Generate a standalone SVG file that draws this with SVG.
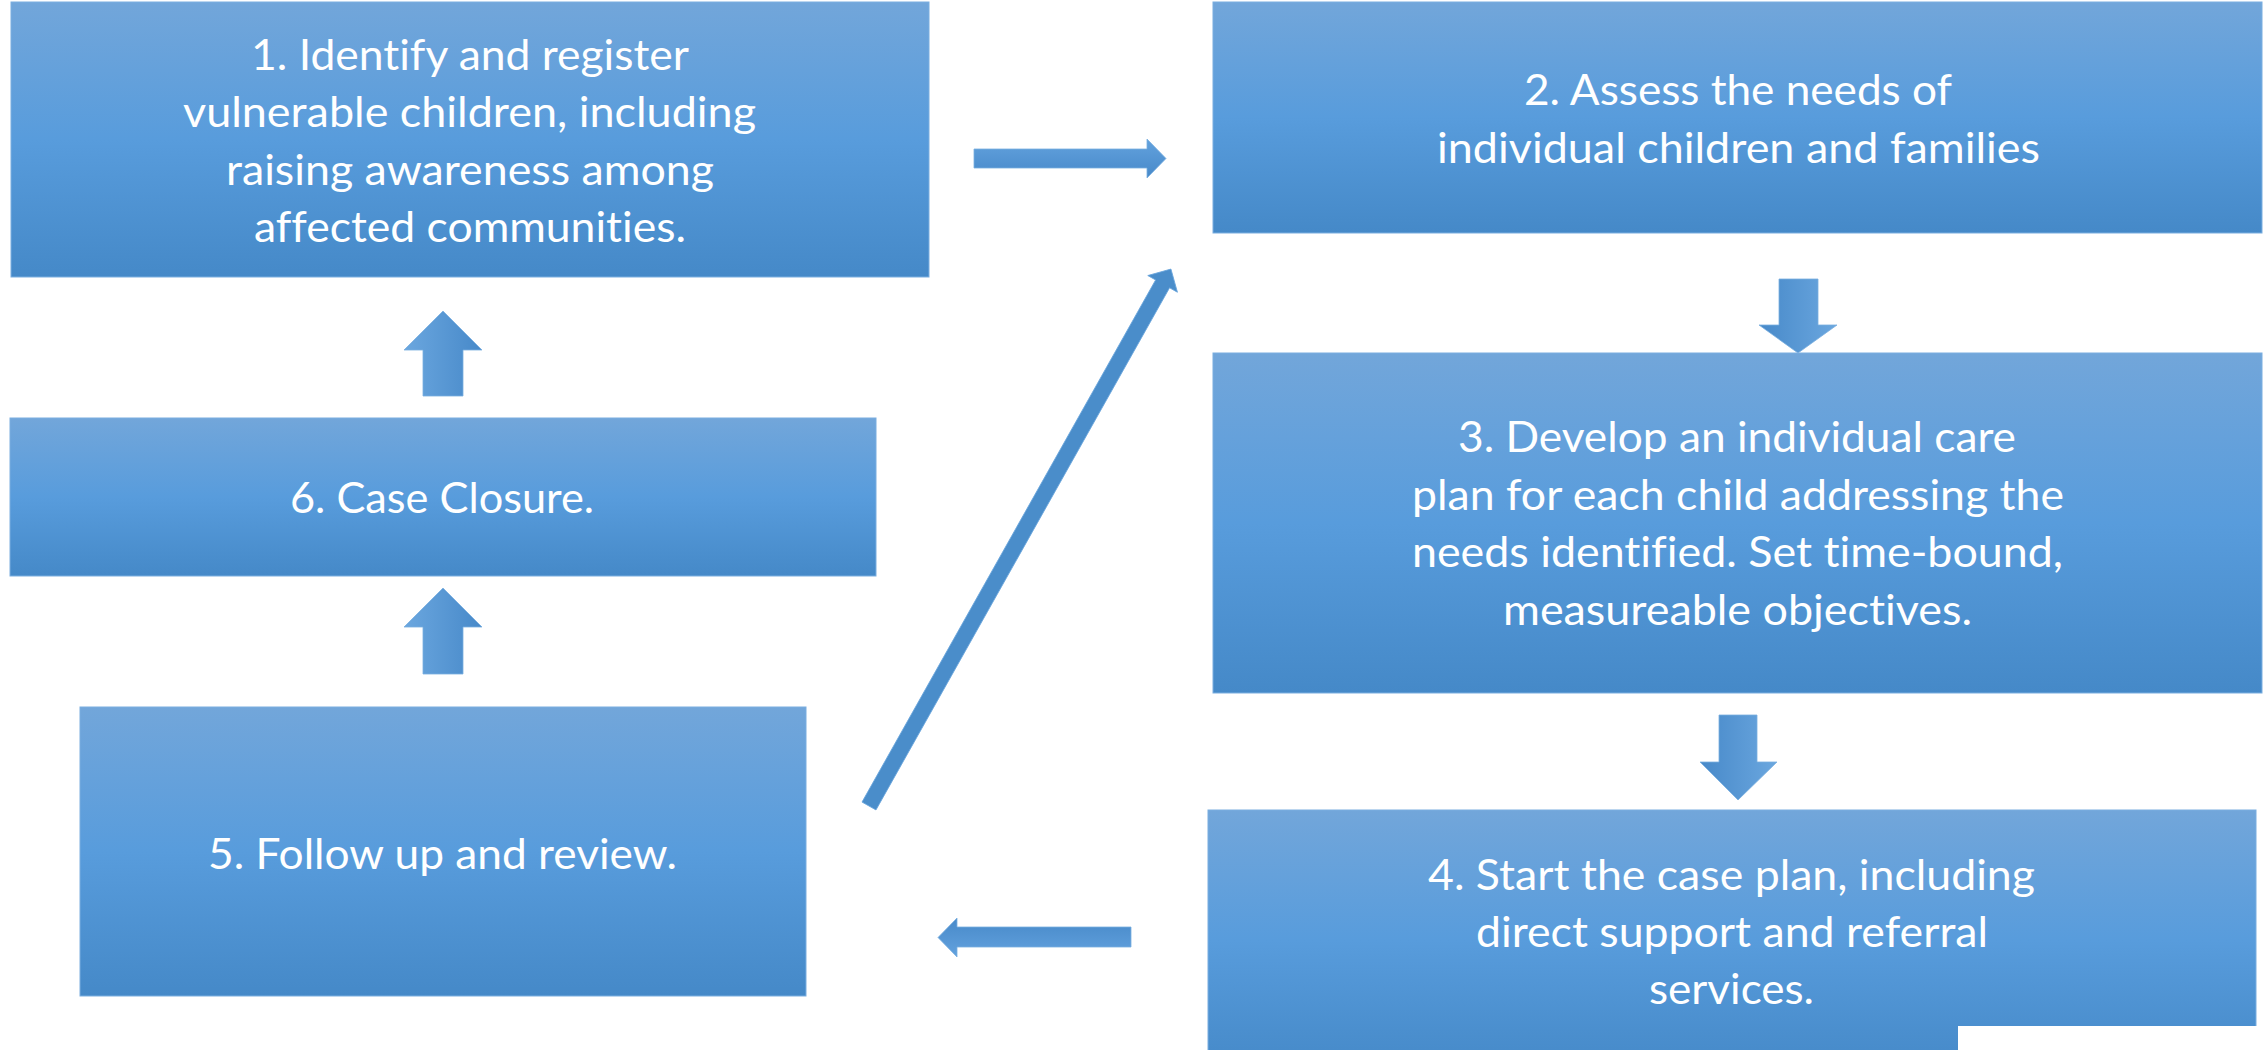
<svg xmlns="http://www.w3.org/2000/svg" width="2264" height="1050" viewBox="0 0 2264 1050">
  <defs>
    <!-- box fill: light top, deeper bottom -->
    <linearGradient id="gBox" x1="0" y1="0" x2="0" y2="1">
      <stop offset="0" stop-color="#72a6da"/>
      <stop offset="0.5" stop-color="#589cdc"/>
      <stop offset="1" stop-color="#4589c8"/>
    </linearGradient>
    <!-- block arrow fills, shading turns with the arrow -->
    <linearGradient id="gUp" x1="0" y1="0" x2="1" y2="0">
      <stop offset="0" stop-color="#6ba7df"/>
      <stop offset="1" stop-color="#4789c9"/>
    </linearGradient>
    <linearGradient id="gDown" x1="0" y1="0" x2="1" y2="0">
      <stop offset="0" stop-color="#4789c9"/>
      <stop offset="1" stop-color="#6ba7df"/>
    </linearGradient>
    <linearGradient id="gRight" x1="0" y1="0" x2="0" y2="1">
      <stop offset="0" stop-color="#63a2de"/>
      <stop offset="1" stop-color="#4789c9"/>
    </linearGradient>
    <linearGradient id="gLeft" x1="0" y1="0" x2="0" y2="1">
      <stop offset="0" stop-color="#4789c9"/>
      <stop offset="1" stop-color="#63a2de"/>
    </linearGradient>
  </defs>
  <style>
    .box { fill: url(#gBox); stroke: #7aaee0; stroke-width: 1; }
    .lbl { font-family: Lato, "Open Sans", "Liberation Sans", sans-serif; font-size: 42px; fill: #ffffff; text-anchor: middle; font-variant-ligatures: none; }
    .arw { stroke: #7aaee0; stroke-width: 0.8; }
  </style>

  <rect width="2264" height="1050" fill="#ffffff"/>

  <g id="connectors">
    <!-- 1 -> 2 -->
    <polygon class="arw" fill="url(#gRight)" points="974,149 1147,149 1147,139 1166,158.5 1147,178 1147,168 974,168"/>
    <!-- 2 -> 3 -->
    <polygon class="arw" fill="url(#gDown)" points="1779,279 1818,279 1818,325 1837,325 1798,353 1759,325 1779,325"/>
    <!-- 3 -> 4 -->
    <polygon class="arw" fill="url(#gDown)" points="1719,715 1757,715 1757,762 1777,762 1738,800 1700,762 1719,762"/>
    <!-- 4 -> 5 -->
    <polygon class="arw" fill="url(#gLeft)" points="1131,927 957,927 957,918 938,937.5 957,957 957,947 1131,947"/>
    <!-- 5 -> 6 -->
    <polygon class="arw" fill="url(#gUp)" points="423,674 423,627 404,627 443,588 482,627 463,627 463,674"/>
    <!-- 6 -> 1 -->
    <polygon class="arw" fill="url(#gUp)" points="423,396 423,350 404,350 443,311 482,350 463,350 463,396"/>
    <!-- 5 -> 2, long diagonal -->
    <g transform="translate(869,806) rotate(-60.65)">
      <polygon fill="#4a8dca" stroke="#6aa5dc" stroke-width="0.8" points="0,-8 599,-8 599,-17 616,0 599,17 599,8 0,8"/>
    </g>
  </g>

  <g id="node1">
    <rect class="box" x="11" y="2" width="918" height="275"/>
    <text class="lbl" x="470" y="69.5" textLength="438" lengthAdjust="spacingAndGlyphs">1. Identify and register</text>
    <text class="lbl" x="469.5" y="127" textLength="573" lengthAdjust="spacingAndGlyphs">vulnerable children, including</text>
    <text class="lbl" x="470" y="184.5" textLength="488" lengthAdjust="spacingAndGlyphs">raising awareness among</text>
    <text class="lbl" x="470" y="242" textLength="432" lengthAdjust="spacingAndGlyphs">affected communities.</text>
  </g>

  <g id="node2">
    <rect class="box" x="1213" y="2" width="1049" height="231"/>
    <text class="lbl" x="1738" y="105" textLength="428" lengthAdjust="spacingAndGlyphs">2. Assess the needs of</text>
    <text class="lbl" x="1738.5" y="163" textLength="603" lengthAdjust="spacingAndGlyphs">individual children and families</text>
  </g>

  <g id="node3">
    <rect class="box" x="1213" y="353" width="1049" height="340"/>
    <text class="lbl" x="1737" y="452" textLength="558" lengthAdjust="spacingAndGlyphs">3. Develop an individual care</text>
    <text class="lbl" x="1738" y="510" textLength="652" lengthAdjust="spacingAndGlyphs">plan for each child addressing the</text>
    <text class="lbl" x="1737.5" y="567" textLength="651" lengthAdjust="spacingAndGlyphs">needs identified. Set time-bound,</text>
    <text class="lbl" x="1737.5" y="625" textLength="469" lengthAdjust="spacingAndGlyphs">measureable objectives.</text>
  </g>

  <g id="node4">
    <rect class="box" x="1208" y="810" width="1048" height="260"/>
    <text class="lbl" x="1731.5" y="890" textLength="607" lengthAdjust="spacingAndGlyphs">4. Start the case plan, including</text>
    <text class="lbl" x="1732" y="947" textLength="512" lengthAdjust="spacingAndGlyphs">direct support and referral</text>
    <text class="lbl" x="1731.5" y="1004" textLength="165" lengthAdjust="spacingAndGlyphs">services.</text>
    <!-- blank patch over the lower right corner -->
    <rect x="1958" y="1026" width="306" height="24" fill="#ffffff"/>
  </g>

  <g id="node5">
    <rect class="box" x="80" y="707" width="726" height="289"/>
    <text class="lbl" x="442.5" y="869" textLength="469" lengthAdjust="spacingAndGlyphs">5. Follow up and review.</text>
  </g>

  <g id="node6">
    <rect class="box" x="10" y="418" width="866" height="158"/>
    <text class="lbl" x="442" y="513" textLength="304" lengthAdjust="spacingAndGlyphs">6. Case Closure.</text>
  </g>
</svg>
